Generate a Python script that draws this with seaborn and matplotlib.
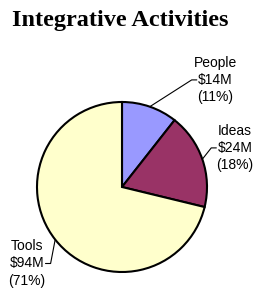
import matplotlib
matplotlib.use("Agg")
import matplotlib.pyplot as plt
import seaborn as sns
import numpy as np

# data
categories = ["People", "Ideas", "Tools"]
values_musd = [14, 24, 94]
colors = ["#9999FF", "#993366", "#FFFFCC"]

sns.set_style("white")
plt.rcParams['font.family'] = ['Liberation Sans', 'DejaVu Sans']
plt.rcParams['text.color'] = 'black'

W, H = 257, 293
R_PX = 85.0           # pie radius in pixels
CX, CY = 122, 187     # pie centre (pixels from top-left)

fig = plt.figure(figsize=(W / 100, H / 100), dpi=100)
ax = fig.add_axes([0, 0, 1, 1])

wedges, _ = ax.pie(values_musd, colors=colors, startangle=90, counterclock=False,
                   wedgeprops=dict(edgecolor="black", linewidth=1.5))

# map pixels to data units (radius 1 == R_PX pixels)
ax.set_xlim(-CX / R_PX, (W - CX) / R_PX)
ax.set_ylim(-(H - CY) / R_PX, CY / R_PX)
ax.set_aspect("auto")
ax.axis("off")

total = sum(values_musd)
# label centres in data units (layout only)
label_pos = [(1.10, 1.26), (1.33, 0.46), (-1.12, -0.90)]
half_w = 0.22

for w, name, v, (tx, ty) in zip(wedges, categories, values_musd, label_pos):
    pct = 100 * v / total
    ax.text(tx, ty, f"{name}\n${v}M\n({pct:.0f}%)", ha="center", va="center",
            fontsize=10, linespacing=1.3, color="black")
    mid = np.deg2rad((w.theta1 + w.theta2) / 2)
    px, py = np.cos(mid), np.sin(mid)
    side = np.sign(tx)
    edge = tx - side * half_w
    elbow = edge - side * 0.06
    ax.plot([px, elbow, edge], [py, ty, ty], color="black", lw=0.8)

fig.text(12 / W, 1 - 26 / H, "Integrative Activities", ha="left", va="baseline",
         fontsize=17.5, fontweight="bold", color="black",
         family=["Liberation Serif", "DejaVu Serif"])

fig.savefig("out.png", dpi=100, facecolor="white")
